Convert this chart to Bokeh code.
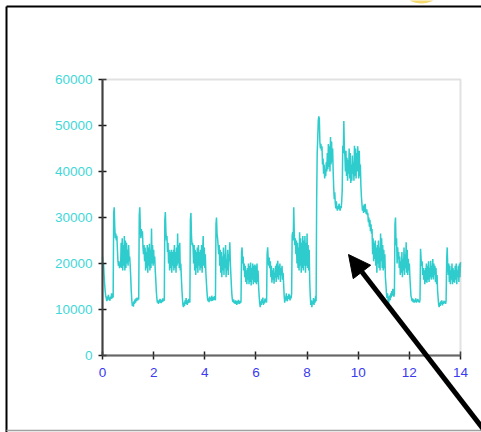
import numpy as np
from bokeh.plotting import figure
from bokeh.models import Range1d, FixedTicker, BasicTickFormatter, Arrow, NormalHead, LinearAxis, BoxAnnotation
from bokeh.embed import file_html
from bokeh.resources import INLINE

SAMPLES_PER_DAY = 48

day00 = [21500, 19000, 20000, 17500, 15500, 14000, 13000, 12500, 11800, 12800, 12000, 13200,
         12200, 12600, 11900, 12800, 12300, 13500, 12400, 13000, 12600, 31000, 32200, 28000,
         25500, 26500, 25000, 26000, 23000, 20500, 19500, 20500, 19000, 20000, 19200, 24500,
         19000, 25500, 18500, 24000, 19500, 26000, 18500, 25000, 19000, 24500, 20000, 23000]
day01 = [19500, 24000, 20500, 21500, 19500, 17000, 14000, 12000, 10800, 11500, 10600, 11800,
         11200, 12200, 11500, 12400, 11800, 12600, 12000, 12500, 12200, 30500, 32200, 28000,
         25500, 27500, 26000, 27000, 23500, 22000, 24000, 20500, 23500, 18500, 22500, 19000,
         24000, 18000, 23500, 19500, 24300, 18500, 23000, 19000, 27600, 20000, 24000, 19500]
day02 = [23000, 20000, 21500, 18500, 16500, 14000, 12500, 11500, 12000, 11200, 12000, 11500,
         12300, 11700, 11400, 12100, 11600, 12400, 11800, 12200, 11900, 29500, 31200, 27000,
         25000, 26000, 22500, 24500, 20000, 23000, 18500, 22500, 19000, 23000, 18000, 22500,
         19500, 23000, 18500, 24000, 19000, 22500, 18000, 23500, 19500, 26500, 20000, 24000]
day03 = [19000, 24500, 18500, 20000, 17000, 14500, 12500, 11000, 10500, 11500, 10800, 12000,
         11200, 12500, 11600, 11000, 12000, 11400, 12300, 11800, 11500, 29500, 31000, 26000,
         24000, 24500, 23500, 20000, 24000, 18500, 23000, 17500, 22500, 19000, 23500, 18000,
         24000, 19500, 22500, 18500, 23000, 19000, 24000, 18000, 22500, 26000, 19500, 23500]
day04 = [19000, 22000, 18000, 16000, 14000, 12500, 11800, 12400, 11600, 12800, 12000, 12600,
         11800, 13000, 12200, 11900, 12700, 12100, 12900, 12300, 12000, 28500, 30000, 26500,
         25500, 24000, 22000, 24000, 19500, 23000, 18000, 22500, 17000, 21500, 18500, 23500,
         17500, 22000, 19000, 24000, 17000, 21000, 18500, 23000, 17500, 22000, 20500, 24600]
day05 = [20000, 17500, 15000, 13000, 12000, 11600, 12200, 11400, 11900, 11200, 12000, 11500,
         11000, 11800, 11300, 12100, 11600, 11200, 11900, 11400, 11800, 22500, 23500, 20000,
         21500, 18500, 20000, 17000, 19500, 16000, 18500, 15500, 19000, 16500, 20000, 15500,
         19500, 16000, 20200, 15200, 19000, 16500, 20000, 15500, 19500, 16000, 19800, 15800]
day06 = [19500, 15500, 20000, 16000, 18500, 15000, 13000, 11500, 10500, 11800, 11000, 12200,
         11400, 12600, 11000, 11800, 11300, 12400, 11600, 12000, 11500, 22000, 23500, 21000,
         19500, 21300, 19000, 20500, 17000, 19500, 15800, 18500, 16500, 19000, 15600, 18000,
         17000, 19500, 16000, 20000, 17000, 20600, 16500, 19500, 17500, 20000, 16000, 19000]
day07 = [17500, 19500, 16500, 18000, 15500, 13000, 11500, 12800, 12000, 13500, 12200, 11800,
         12900, 12300, 13400, 12600, 12000, 13000, 12400, 13500, 26000, 26800, 25000, 32200,
         26500, 24000, 25500, 22000, 25000, 20000, 24500, 19000, 23500, 18500, 26800, 19500,
         25500, 18000, 24500, 19000, 26000, 18500, 25000, 19500, 26000, 18000, 24500, 19500]
day08 = [26500, 19000, 24000, 18500, 23000, 16000, 13000, 11000, 12000, 10500, 11800, 11200,
         12500, 11000, 12200, 11500, 13000, 11800, 34000, 44000, 47000, 51000, 52000, 51500,
         46500, 45000, 46000, 44500, 45500, 41500, 42800, 39500, 41500, 38500, 40500, 39000,
         42000, 40000, 44000, 40500, 46000, 41000, 45500, 40000, 47500, 41500, 46500, 42000]
day09 = [45000, 40000, 36500, 34000, 35500, 33000, 32000, 33500, 32000, 31500, 32500, 31800,
         33000, 32200, 31500, 32500, 32000, 33500, 36000, 45600, 44000, 51000, 45000, 43500,
         40000, 44500, 39000, 43000, 38000, 42500, 39500, 45000, 38500, 44000, 37500, 41500,
         38000, 43500, 39500, 42000, 38000, 45600, 39000, 45000, 38500, 44000, 40000, 45500]
day10 = [43000, 38500, 44500, 39000, 41500, 37000, 34500, 33000, 31500, 32500, 31000, 32800,
         31200, 33000, 31500, 30800, 31800, 30500, 31000, 29000, 30000, 28000, 29500, 27000,
         28500, 26500, 27500, 22000, 25500, 20500, 24500, 21000, 25000, 19500, 23500, 18000,
         24000, 20000, 25000, 19000, 23500, 18500, 26500, 20500, 25500, 19000, 24000, 18500]
day11 = [23000, 19000, 22000, 17000, 15500, 13500, 12500, 13500, 12000, 11200, 12500, 13000,
         12000, 13500, 12600, 14000, 13000, 14500, 13200, 12800, 13500, 28500, 30000, 24000,
         25500, 20000, 23500, 21000, 22500, 19000, 21500, 17500, 20500, 18000, 22500, 17000,
         21000, 18500, 23500, 17500, 22000, 19000, 24600, 18000, 23000, 17500, 21000, 18500]
day12 = [20000, 17000, 15000, 13000, 12500, 11800, 12400, 11600, 12200, 11500, 12000, 11700,
         12400, 11500, 12100, 11800, 12300, 11600, 12000, 11500, 12200, 23200, 21000, 19500,
         20500, 17500, 19000, 16500, 18500, 15500, 19000, 16000, 20000, 15800, 19500, 16500,
         20500, 16000, 19000, 17000, 20600, 16500, 19500, 17000, 21000, 16500, 20000, 17500]
day13 = [19500, 16000, 19000, 15500, 17500, 14000, 12500, 11000, 10500, 11500, 10800, 11800,
         11200, 12000, 10900, 11600, 11200, 11900, 11400, 11800, 11200, 12000, 20500, 23500,
         19500, 17500, 20000, 16000, 19500, 15500, 18500, 16500, 20000, 15500, 19000, 16000,
         18500, 15800, 19500, 16500, 20000, 15500, 18500, 17000, 19500, 16000, 20000, 17000]
day14_start = [20300]

values = (day00 + day01 + day02 + day03 + day04 + day05 + day06 + day07 +
          day08 + day09 + day10 + day11 + day12 + day13 + day14_start)
days = np.arange(len(values)) / SAMPLES_PER_DAY

x_ticks = [0, 2, 4, 6, 8, 10, 12, 14]
y_ticks = [0, 10000, 20000, 30000, 40000, 50000, 60000]

W, H = 481, 432
# pixel box of the inner chart area
F_LEFT, F_RIGHT, F_TOP, F_BOTTOM = 102, 460, 79, 355


def X(px):
    return x_ticks[0] + (px - F_LEFT) / (F_RIGHT - F_LEFT) * (x_ticks[-1] - x_ticks[0])


def Y(py):
    return y_ticks[0] + (F_BOTTOM - py) / (F_BOTTOM - F_TOP) * (y_ticks[-1] - y_ticks[0])


p = figure(width=W, height=H, output_backend="svg", toolbar_location=None,
           x_range=Range1d(X(0), X(W)), y_range=Range1d(Y(H), Y(0)),
           x_axis_type=None, y_axis_type=None,
           min_border=0, min_border_left=0, min_border_right=0,
           min_border_top=0, min_border_bottom=0)
p.grid.visible = False
p.background_fill_color = "white"
p.border_fill_color = "white"
p.outline_line_color = None

# small yellow mark peeking in at the top edge
p.ellipse(x=[X(421)], y=[Y(-3)], width=X(434) - X(408), height=Y(0) - Y(12),
          fill_color="#f6d96e", line_color=None)

# gray top/right edges of the plot area
p.add_layout(BoxAnnotation(left=x_ticks[0], right=x_ticks[-1], bottom=y_ticks[0], top=y_ticks[-1],
                           fill_color=None, line_color="#9a9a9a", line_width=2))

p.line(days, values, line_color="#2ecccc", line_width=1.5)

FONT = "Liberation Sans"
xaxis = LinearAxis(fixed_location=y_ticks[0], bounds=(x_ticks[0], x_ticks[-1]),
                   ticker=FixedTicker(ticks=x_ticks))
yaxis = LinearAxis(fixed_location=x_ticks[0], bounds=(y_ticks[0], y_ticks[-1]),
                   ticker=FixedTicker(ticks=y_ticks),
                   formatter=BasicTickFormatter(use_scientific=False))
for ax in (xaxis, yaxis):
    ax.axis_line_width = 2
    ax.major_tick_line_width = 1.5
    ax.major_tick_in = 4
    ax.major_tick_out = 4
    ax.minor_tick_line_color = None
    ax.major_label_text_font = FONT
    ax.major_label_text_font_size = "13.5px"
xaxis.axis_line_color = "#505050"
xaxis.major_tick_line_color = "#202020"
yaxis.axis_line_color = "#1a1a1a"
yaxis.major_tick_line_color = "#1a1a1a"
xaxis.major_label_text_color = "#3a3af0"
yaxis.major_label_text_color = "#3fd8d8"
xaxis.major_label_standoff = 8
yaxis.major_label_standoff = 6
p.add_layout(xaxis, "below")
p.add_layout(yaxis, "left")

# outer chart frame
p.add_layout(Arrow(end=None, x_start=X(6), y_start=Y(6), x_end=X(6), y_end=Y(440),
                   line_color="black", line_width=2))
p.add_layout(Arrow(end=None, x_start=X(6), y_start=Y(6), x_end=X(490), y_end=Y(6),
                   line_color="black", line_width=2))
p.add_layout(Arrow(end=None, x_start=X(6), y_start=Y(430), x_end=X(490), y_end=Y(430),
                   line_color="#a0a0a0", line_width=1.5))

# pointer arrow
p.add_layout(Arrow(end=NormalHead(size=22, fill_color="black", line_color="black"),
                   x_start=X(490), y_start=Y(438), x_end=X(348), y_end=Y(254),
                   line_color="black", line_width=5))

open("out.html", "w").write(file_html(p, INLINE))
